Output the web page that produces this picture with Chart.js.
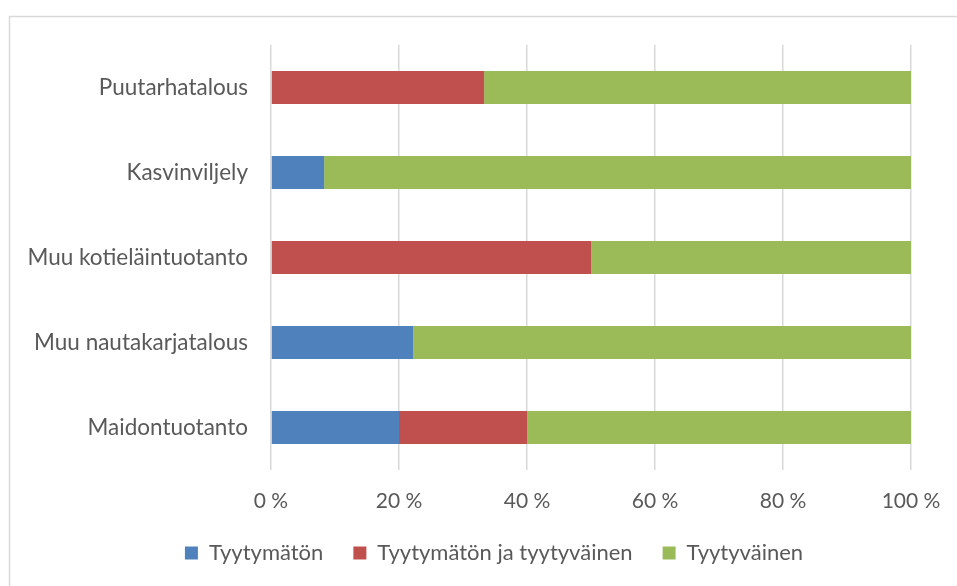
<!DOCTYPE html>
<html>
<head>
<meta charset="utf-8">
<script src="https://cdn.jsdelivr.net/npm/chart.js@4/dist/chart.umd.min.js"></script>
<style>
html,body{margin:0;padding:0;background:#fff;}
#wrap{width:957px;height:586px;position:relative;}
</style>
</head>
<body>
<div id="wrap"><canvas id="c" width="957" height="586"></canvas></div>
<script>
const categories = ["Puutarhatalous", "Kasvinviljely", "Muu kotieläintuotanto", "Muu nautakarjatalous", "Maidontuotanto"];
const seriesNames = ["Tyytymätön", "Tyytymätön ja tyytyväinen", "Tyytyväinen"];
const tyytymaton = [0, 8.3, 0, 22.2, 20];
const tyytymatonJaTyytyvainen = [33.3, 0, 50, 0, 20];
const tyytyvainen = [66.7, 91.7, 50, 77.8, 60];
const xTicks = [0, 20, 40, 60, 80, 100];

const FONT = "Lato, 'Open Sans', sans-serif";
const TXT = "#595959";

const framePlugin = {
  id: 'frame',
  beforeDraw(chart) {
    const ctx = chart.ctx;
    ctx.save();
    ctx.fillStyle = '#fff';
    ctx.fillRect(0, 0, chart.width, chart.height);
    ctx.strokeStyle = '#d9d9d9';
    ctx.lineWidth = 1.5;
    ctx.strokeRect(9.5, 16.5, 2000, 2000);
    ctx.restore();
  }
};

const legendShift = {
  id: 'legendShift',
  afterUpdate(chart) {
    if (chart.legend) { chart.legend.left += 77; }
  }
};

new Chart(document.getElementById('c'), {
  type: 'bar',
  data: {
    labels: categories,
    datasets: [
      { label: seriesNames[0], data: tyytymaton, backgroundColor: '#4F81BD' },
      { label: seriesNames[1], data: tyytymatonJaTyytyvainen, backgroundColor: '#C0504D' },
      { label: seriesNames[2], data: tyytyvainen, backgroundColor: '#9BBB59' }
    ]
  },
  options: {
    indexAxis: 'y',
    responsive: false,
    animation: false,
    devicePixelRatio: 1,
    layout: { padding: { top: 45, right: 46, left: 0, bottom: 12 } },
    datasets: { bar: { categoryPercentage: 1, barPercentage: 0.39 } },
    scales: {
      x: {
        stacked: true,
        min: 0, max: 100,
        afterBuildTicks(scale) { scale.ticks = xTicks.map(v => ({ value: v })); },
        afterFit(scale) { scale.height = 42; scale.paddingRight = 0; scale.paddingLeft = 0; },
        grid: { color: '#d9d9d9', lineWidth: 1.5, drawTicks: false },
        border: { display: false },
        ticks: {
          padding: 19,
          color: TXT,
          font: { family: FONT, size: 21 },
          callback: v => v + ' %'
        }
      },
      y: {
        stacked: true,
        afterFit(scale) { scale.width = 271; },
        grid: { display: false, drawTicks: false },
        border: { display: false },
        ticks: {
          padding: 23,
          color: TXT,
          font: { family: FONT, size: 22.5 }
        }
      }
    },
    plugins: {
      tooltip: { enabled: false },
      legend: {
        position: 'bottom',
        labels: {
          boxWidth: 13,
          boxHeight: 13,
          padding: 30,
          color: TXT,
          font: { family: FONT, size: 22 }
        }
      }
    }
  },
  plugins: [framePlugin, legendShift]
});
</script>
</body>
</html>
